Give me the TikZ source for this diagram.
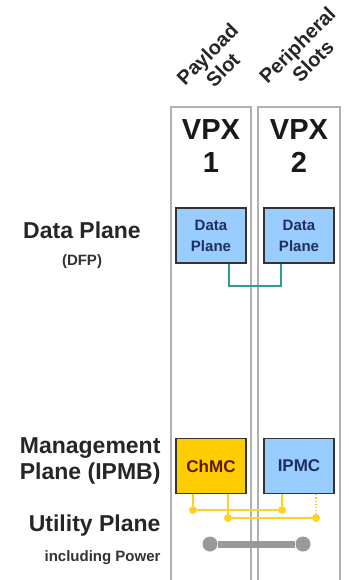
\documentclass[tikz,border=0pt]{standalone}
\usepackage{fontspec}
\setmainfont{Liberation Sans}
\definecolor{slotgray}{HTML}{B0B0B0}
\definecolor{boxblue}{HTML}{99CCFF}
\definecolor{boxgold}{HTML}{FFCC00}
\definecolor{navy}{HTML}{1F2F5F}
\definecolor{brownred}{HTML}{5A1A00}
\definecolor{teal}{HTML}{2E9E8E}
\definecolor{ylw}{HTML}{FFD21F}
\definecolor{barg}{HTML}{999999}
\tikzset{
  slotframe/.style={draw=slotgray, line width=1.8pt},
  planebox/.style={draw=black!80, line width=1.2pt, minimum width=70pt, minimum height=55pt, align=center, font=\bfseries\fontsize{15}{21}\selectfont, text=navy, inner sep=0pt},
  lefttext/.style={anchor=east, font=\bfseries\fontsize{23}{26}\selectfont, text=black!85},
  smalltext/.style={anchor=east, font=\bfseries\fontsize{15}{17}\selectfont, text=black!80},
  slotlabel/.style={rotate=45, align=center, font=\bfseries\fontsize{20}{22}\selectfont, text=black!85},
  vpx/.style={align=center, font=\bfseries\fontsize{29}{33}\selectfont, text=black!90},
  ydot/.style={circle, fill=ylw, inner sep=0pt, minimum size=8pt},
  gdot/.style={circle, fill=barg, inner sep=0pt, minimum size=15pt},
}
\begin{document}
\begin{tikzpicture}[x=1pt,y=-1pt]
\useasboundingbox (0,0) rectangle (348,580);
% slots
\draw[slotframe] (171,107) rectangle (251,582);
\draw[slotframe] (258,107) rectangle (340,582);
% slot labels
\node[slotlabel] (lab1) at (215,62) {Payload\\Slot};
\node[slotlabel] (lab2) at (305,53) {Peripheral\\Slots};
\node[vpx] (vpx1) at (211,146) {VPX\\1};
\node[vpx] (vpx2) at (299,146) {VPX\\2};
% left labels
\node[lefttext, anchor=center] (dp) at (82,230) {Data Plane};
\node[font=\bfseries\fontsize{15}{17}\selectfont, text=black!80] (dfp) at (82,262) {(DFP)};
\node[lefttext] (mp1) at (164,448) {Management};
\node[lefttext] (mp2) at (164,474) {Plane (IPMB)};
\node[lefttext] (up) at (164,526) {Utility Plane};
\node[smalltext] (ip) at (164,558) {including Power};
% boxes
\node[planebox, fill=boxblue] (d1) at (211,235.5) {Data\\Plane};
\node[planebox, fill=boxblue] (d2) at (299,235.5) {Data\\Plane};
\node[planebox, fill=boxgold, text=brownred, font=\bfseries\fontsize{17}{19}\selectfont] (chmc) at (211,466) {ChMC};
\node[planebox, fill=boxblue, font=\bfseries\fontsize{17}{19}\selectfont] (ipmc) at (299,466) {IPMC};
% teal link
\coordinate (t1) at (229,286);
\coordinate (t2) at (281,286);
\draw[teal, line width=1.8pt] (d1.south -| t1) -- (t1) -- (t2) -- (d2.south -| t2);
% yellow IPMB
\node[ydot] (y1) at (193,510) {};
\node[ydot] (y2) at (282,510) {};
\node[ydot] (y3) at (228,518) {};
\node[ydot] (y4) at (316,518) {};
\draw[ylw, line width=1.2pt] (chmc.south -| y1) -- (y1) -- (y2) -- (ipmc.south -| y2);
\draw[ylw, line width=1.2pt] (chmc.south -| y3) -- (y3) -- (y4);
\draw[ylw, line width=1.2pt, dotted] (ipmc.south -| y4) -- (y4);
% power bar
\node[gdot] (g1) at (210,544) {};
\node[gdot] (g2) at (303,544) {};
\draw[barg, line width=7pt] (g1) -- (g2);
\end{tikzpicture}
\end{document}
